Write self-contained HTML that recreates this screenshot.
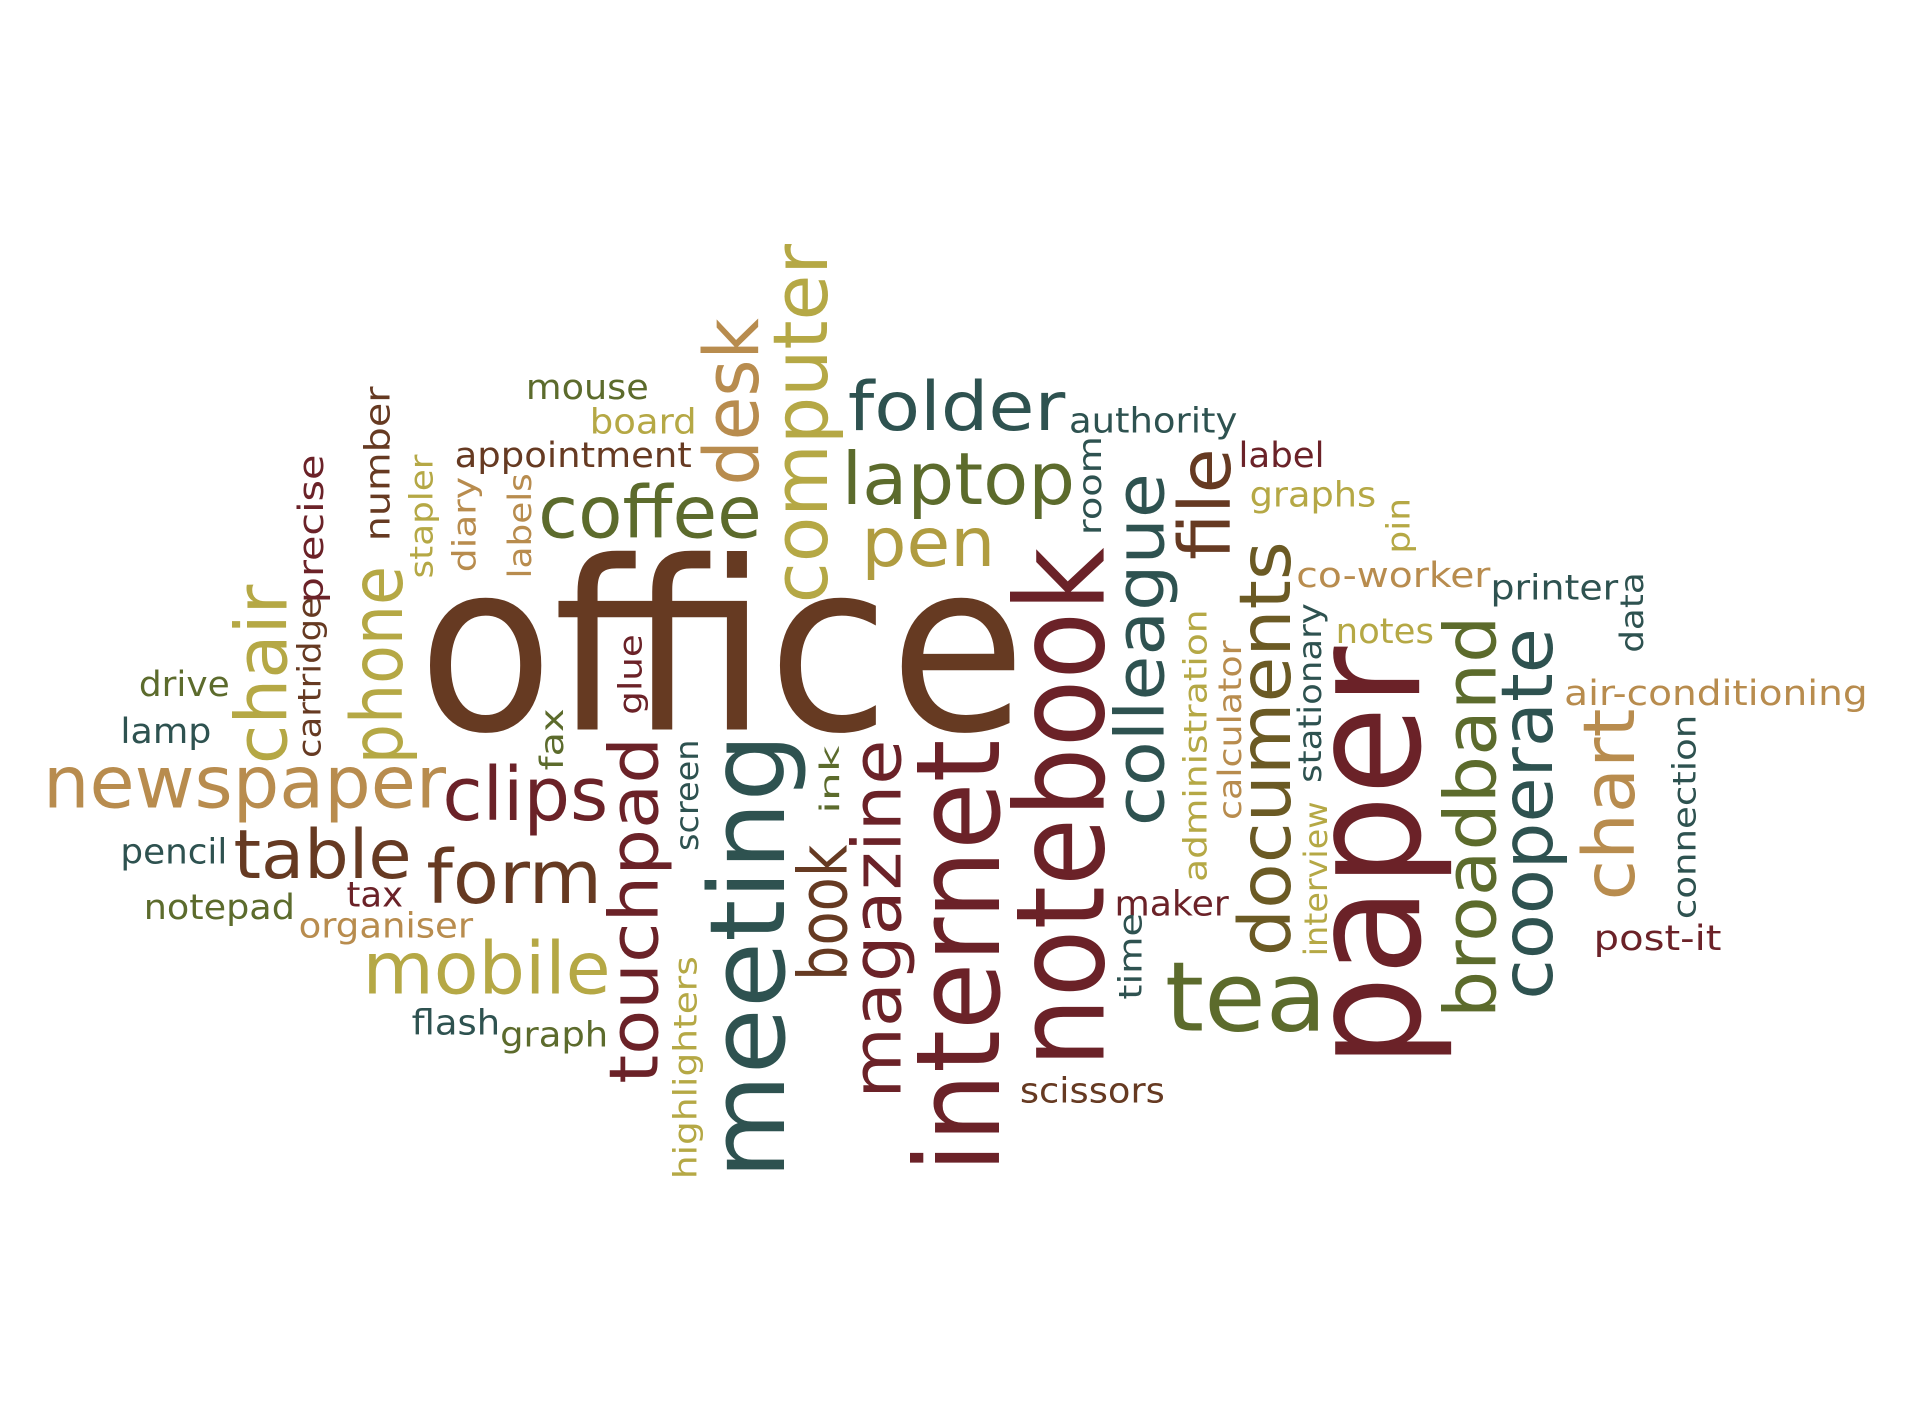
<!DOCTYPE html>
<html><head><meta charset="utf-8"><style>
html,body{margin:0;padding:0;background:#fff;width:1920px;height:1417px;overflow:hidden}
svg{display:block}
text{font-family:"DejaVu Sans","Liberation Sans",sans-serif}
</style></head><body>
<svg width="1920" height="1417" viewBox="0 0 1550 1144" xmlns="http://www.w3.org/2000/svg"><g id="cloud" transform="translate(-5,-3) scale(0.992,1)"></g></svg>
<script>
const BR="#663a22",MA="#6b2228",TE="#2e5250",OL="#5c6b2c",GO="#b5a845",TA="#b88c4e",DO="#6b5a24";
const hWords=[
["office",345,840,592,190,BR],["newspaper",40,368,655,58,TA],["clips",365,500,665,60,MA],
["table",195,340,712,55,BR],["form",352,495,732,60,BR],["mobile",300,502,805,58,GO],
["coffee",443,625,437,58,OL],["pen",706,815,460,55,"#b09c40"],["laptop",690,880,410,58,OL],
["folder",695,872,350,55,TE],["authority",875,1012,352,28,TE],["mouse",433,533,325,28,OL],
["board",485,572,353,28,GO],["appointment",375,568,380,28,BR],["label",1013,1083,380,28,MA],
["graphs",1022,1125,412,28,GO],["co-worker",1060,1218,477,28,TA],["printer",1218,1322,487,28,TE],
["notes",1092,1172,522,28,GO],["air-conditioning",1278,1525,572,28,TA],["post-it",1302,1406,770,28,MA],
["tea",953,1085,835,78,OL],["scissors",835,953,893,28,BR],["maker",912,1005,742,28,MA],
["drive",118,192,565,28,OL],["lamp",103,177,603,28,TE],["pencil",103,190,700,28,TE],
["tax",287,333,735,28,MA],["notepad",122,245,745,28,OL],["organiser",248,390,760,28,TA],
["flash",340,412,838,28,TE],["graph",412,500,848,28,OL]
];
const vWords=[
["paper",1160,865,525,125,MA],["notebook",903,865,445,100,MA],["internet",818,950,600,95,MA],
["meeting",643,955,595,85,TE],["magazine",738,890,600,55,MA],["touchpad",540,878,598,55,MA],
["book",694,795,685,55,BR],["ink",688,660,605,22,OL],["screen",573,690,600,26,TE],
["highlighters",572,955,775,26,GO],["glue",527,580,515,26,MA],["fax",463,625,575,26,OL],
["chair",238,620,475,58,GO],["phone",332,620,460,58,GO],["number",322,440,315,28,BR],
["precise",268,490,370,28,MA],["cartridge",266,615,485,26,BR],["stapler",357,470,370,26,GO],
["diary",392,465,388,26,TA],["labels",437,470,385,26,TA],["desk",622,395,260,62,TA],
["computer",678,490,200,62,GO],["room",901,435,355,26,TE],["colleague",952,670,385,55,TE],
["file",1006,455,365,58,BR],["administration",987,715,495,26,GO],["calculator",1015,665,520,26,TA],
["documents",1055,775,440,58,DO],["interview",1085,775,650,26,GO],["stationary",1080,635,490,26,TE],
["pin",1152,450,405,26,GO],["time",934,810,740,26,TE],["broadband",1222,825,500,58,OL],
["cooperate",1268,810,510,58,TE],["chart",1335,730,575,58,TA],["data",1342,530,465,26,TE],
["connection",1385,745,580,26,TE]
];
const svg=document.getElementById('cloud');
const NS="http://www.w3.org/2000/svg";
function mk(w){const t=document.createElementNS(NS,'text');t.textContent=w;


t.setAttribute('lengthAdjust','spacingAndGlyphs');return t;}
hWords.forEach(d=>{const t=mk(d[0]);t.setAttribute('x',d[1]);t.setAttribute('y',d[3]);
t.setAttribute('font-size',d[4]);t.setAttribute('fill',d[5]);t.setAttribute('textLength',d[2]-d[1]);svg.appendChild(t);});
vWords.forEach(d=>{const t=mk(d[0]);t.setAttribute('x',0);t.setAttribute('y',0);
t.setAttribute('transform','translate('+d[1]+','+d[2]+') rotate(-90)');
t.setAttribute('font-size',d[4]);t.setAttribute('fill',d[5]);t.setAttribute('textLength',d[2]-d[3]);svg.appendChild(t);});
</script>
</body></html>
